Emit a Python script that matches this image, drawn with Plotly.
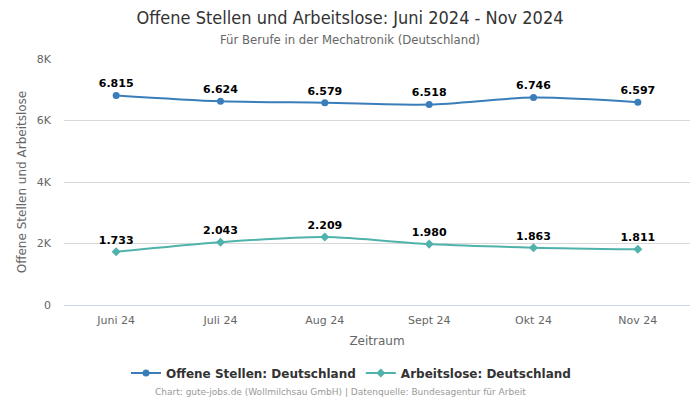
import plotly.graph_objects as go

categories = ["Juni 24", "Juli 24", "Aug 24", "Sept 24", "Okt 24", "Nov 24"]
offene_stellen = [6815, 6624, 6579, 6518, 6746, 6597]
arbeitslose = [1733, 2043, 2209, 1980, 1863, 1811]
y_tickvals = [0, 2000, 4000, 6000, 8000]
y_ticktext = ["0", "2K", "4K", "6K", "8K"]


def fmt(v):
    return f"{v:,}".replace(",", ".")


FONT = "DejaVu Sans"
COND = "DejaVu Sans Condensed, DejaVu Sans"
OFF = 8  # page body margin in the browser
W, H = 700 - OFF, 400 - OFF
# target positions in screen pixels
PLOT_TOP, PLOT_BOTTOM, PLOT_LEFT, PLOT_RIGHT = 59 - OFF, 305 - OFF, 64 - OFF, 690 - OFF


def ypx(py):
    py -= OFF
    return (PLOT_BOTTOM - py) / (PLOT_BOTTOM - PLOT_TOP)


def xpx(px):
    px -= OFF
    return (px - PLOT_LEFT) / (PLOT_RIGHT - PLOT_LEFT)


fig = go.Figure()
fig.add_trace(go.Scatter(
    x=categories, y=offene_stellen, name="Offene Stellen: Deutschland",
    mode="lines+markers+text", line=dict(color="#3a7dbb", width=2, shape="spline", smoothing=0.8),
    marker=dict(symbol="circle", size=7, color="#3a7dbb"),
    text=[fmt(v) for v in offene_stellen], textposition="top center",
    textfont=dict(family=FONT, size=11, color="#000000", weight="bold"),
    cliponaxis=False,
))
fig.add_trace(go.Scatter(
    x=categories, y=arbeitslose, name="Arbeitslose: Deutschland",
    mode="lines+markers+text", line=dict(color="#50b3ab", width=2, shape="spline", smoothing=0.8),
    marker=dict(symbol="diamond", size=7, color="#50b3ab"),
    text=[fmt(v) for v in arbeitslose], textposition="top center",
    textfont=dict(family=FONT, size=11, color="#000000", weight="bold"),
    cliponaxis=False,
))

fig.update_layout(
    width=W, height=H,
    margin=dict(l=PLOT_LEFT, r=W - PLOT_RIGHT, t=PLOT_TOP, b=H - PLOT_BOTTOM),
    paper_bgcolor="white", plot_bgcolor="white",
    font=dict(family=FONT, color="#666666", size=11),
    title=dict(
        text="Offene Stellen und Arbeitslose: Juni 2024 - Nov 2024",
        x=(350 - OFF) / W, xanchor="center", xref="container", yref="container",
        y=1 - (18 - OFF) / H, yanchor="middle",
        font=dict(family=COND, size=18, color="#333333"),
        automargin=False,
    ),
    xaxis=dict(
        range=[-0.5, 5.5], showgrid=False, showline=True, linecolor="#ccd6eb",
        ticks="", tickfont=dict(size=11, color="#666666"), automargin=False,
        ticklabelstandoff=5,
        title=dict(text="Zeitraum", font=dict(size=12, color="#666666"), standoff=10),
    ),
    yaxis=dict(
        range=[0, 8000], tickvals=y_tickvals, ticktext=y_ticktext,
        showgrid=True, gridcolor="#d8d8d8", zeroline=False, showline=False,
        tickfont=dict(size=11, color="#666666"), ticklabelstandoff=12, automargin=False,
        title=dict(text="Offene Stellen und Arbeitslose", font=dict(size=12, color="#666666"), standoff=7),
    ),
    legend=dict(
        orientation="h", x=xpx(351), xanchor="center", y=ypx(373), yanchor="middle",
        font=dict(size=12, color="#333333", weight="bold"), itemwidth=30,
    ),
    showlegend=True,
)
fig.add_annotation(
    text="Für Berufe in der Mechatronik (Deutschland)",
    xref="paper", yref="paper", x=xpx(350), y=ypx(39),
    xanchor="center", yanchor="middle",
    showarrow=False, font=dict(family=COND, size=13, color="#666666"),
)
fig.add_annotation(
    text="Chart: gute-jobs.de (Wollmilchsau GmbH) | Datenquelle: Bundesagentur für Arbeit",
    xref="paper", yref="paper", x=xpx(340), y=ypx(392),
    xanchor="center", yanchor="middle",
    showarrow=False, font=dict(size=9, color="#999999"),
)

fig.write_html("out.html")
